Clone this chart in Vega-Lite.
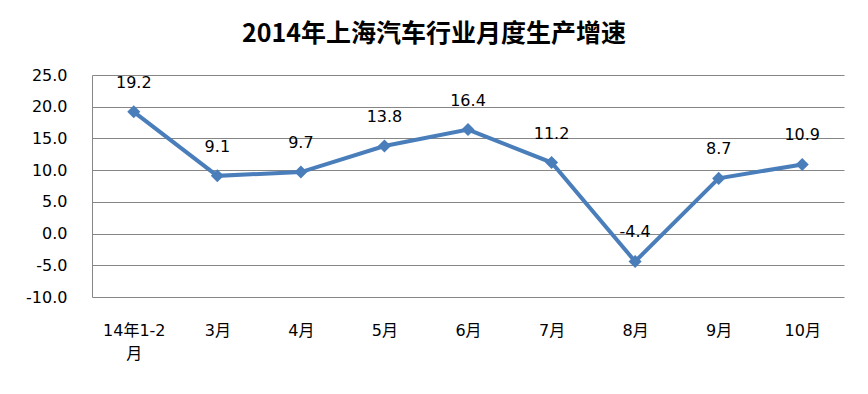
{
  "$schema": "https://vega.github.io/schema/vega-lite/v6.json",
  "autosize": "none",
  "width": 752,
  "height": 222,
  "padding": {"left": 92, "top": 75, "right": 24, "bottom": 97},
  "background": "white",
  "title": {
    "text": "2014年上海汽车行业月度生产增速",
    "font": "Noto Sans CJK SC",
    "fontSize": 25,
    "fontWeight": "bold",
    "color": "#000000",
    "anchor": "middle",
    "frame": "group",
    "dx": -34,
    "offset": 20
  },
  "data": {
    "values": [
      {"month": "14年1-2月", "growth": 19.2},
      {"month": "3月", "growth": 9.1},
      {"month": "4月", "growth": 9.7},
      {"month": "5月", "growth": 13.8},
      {"month": "6月", "growth": 16.4},
      {"month": "7月", "growth": 11.2},
      {"month": "8月", "growth": -4.4},
      {"month": "9月", "growth": 8.7},
      {"month": "10月", "growth": 10.9}
    ]
  },
  "config": {
    "view": {"stroke": null},
    "font": "DejaVu Sans, Noto Sans CJK SC"
  },
  "encoding": {
    "x": {
      "field": "month",
      "type": "ordinal",
      "sort": null,
      "scale": {"type": "point", "padding": 0.5},
      "axis": {
        "title": null,
        "labelAngle": 0,
        "domain": false,
        "ticks": false,
        "grid": false,
        "labelPadding": 25,
        "labelFontSize": 16,
        "labelColor": "#000000",
        "labelFont": "DejaVu Sans, Noto Sans CJK SC",
        "labelLineHeight": 23,
        "labelBaseline": "top",
        "labelExpr": "datum.value == '14年1-2月' ? ['14年1-2', '月'] : datum.value"
      }
    },
    "y": {
      "field": "growth",
      "type": "quantitative",
      "scale": {"domain": [-10, 25], "nice": false, "zero": false},
      "axis": {
        "title": null,
        "values": [-10, -5, 0, 5, 10, 15, 20, 25],
        "format": ".1f",
        "labelExpr": "replace(datum.label, '\u2212', '-')",
        "ticks": false,
        "domain": true,
        "domainColor": "#868686",
        "domainWidth": 1,
        "grid": true,
        "gridColor": "#868686",
        "gridWidth": 1,
        "gridOpacity": 1,
        "labelPadding": 25,
        "labelFontSize": 16,
        "labelColor": "#000000",
        "labelFont": "DejaVu Sans, Noto Sans CJK SC"
      }
    }
  },
  "layer": [
    {
      "mark": {"type": "line", "color": "#4A7EBB", "strokeWidth": 4}
    },
    {
      "mark": {"type": "point", "shape": "diamond", "filled": true, "color": "#4A7EBB", "size": 170, "opacity": 1}
    },
    {
      "mark": {"type": "text", "fontSize": 16, "color": "#000000", "baseline": "middle", "dy": -29, "font": "DejaVu Sans, Noto Sans CJK SC"},
      "encoding": {"text": {"field": "growth", "type": "nominal"}}
    }
  ]
}
